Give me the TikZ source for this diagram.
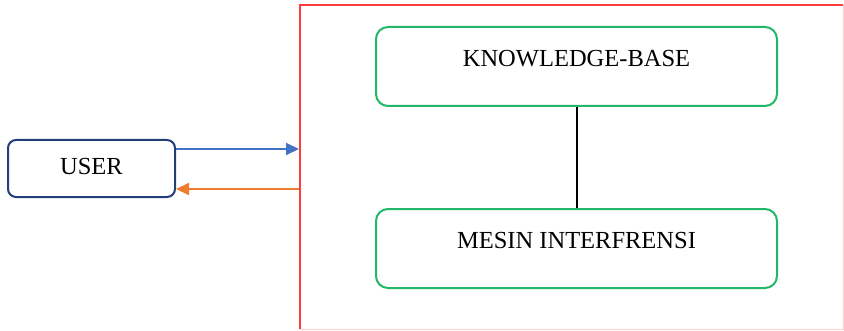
\documentclass[tikz,border=0pt]{standalone}
\usepackage{fontspec}
\setmainfont{Liberation Serif}
\usetikzlibrary{arrows.meta}
\definecolor{fred}{HTML}{FF3B3B}
\definecolor{fgreen}{HTML}{22B867}
\definecolor{fnavy}{HTML}{223F7A}
\definecolor{fblue}{HTML}{4472C4}
\definecolor{forange}{HTML}{ED7D31}
\tikzset{
  gbox/.style={draw=fgreen, line width=2pt, rounded corners=12pt, fill=white,
    minimum width=401pt, minimum height=79pt, inner sep=0pt, text depth=16pt,
    font=\fontsize{24.5}{28}\selectfont},
  ubox/.style={draw=fnavy, line width=2pt, rounded corners=8pt, fill=white,
    minimum width=167pt, minimum height=57pt, inner sep=0pt, text depth=4pt,
    font=\fontsize{24.5}{28}\selectfont},
  arr/.style={line width=2pt, -{Triangle[length=13pt,width=12pt]}}
}
\begin{document}
\begin{tikzpicture}[x=1pt,y=1pt]
\useasboundingbox (0,0) rectangle (844,330);
% red frame
\coordinate (rtl) at (300,325);
\coordinate (rbl) at (300,1);
\coordinate (rtr) at (843,325);
\coordinate (rbr) at (843,1);
\draw[fred!25, line width=1pt] (rbl) -- (rbr) -- (rtr);
\draw[fred, line width=2pt] (rbl) -- (rtl) -- (rtr);
% boxes
\node[gbox] (kb) at (576.5,263.5) {KNOWLEDGE-BASE};
\node[gbox] (mi) at (576.5,81.5) {MESIN INTERFRENSI};
\node[ubox] (user) at (91.5,161.5) {USER};
\draw[black, line width=2pt] (kb.south) -- (mi.north);
% arrows
\coordinate (inR) at (299,181);
\coordinate (outR) at (299,141);
\draw[arr, fblue] (user.east |- inR) -- (inR);
\draw[arr, forange] (outR) -- (user.east |- outR);
\end{tikzpicture}
\end{document}
